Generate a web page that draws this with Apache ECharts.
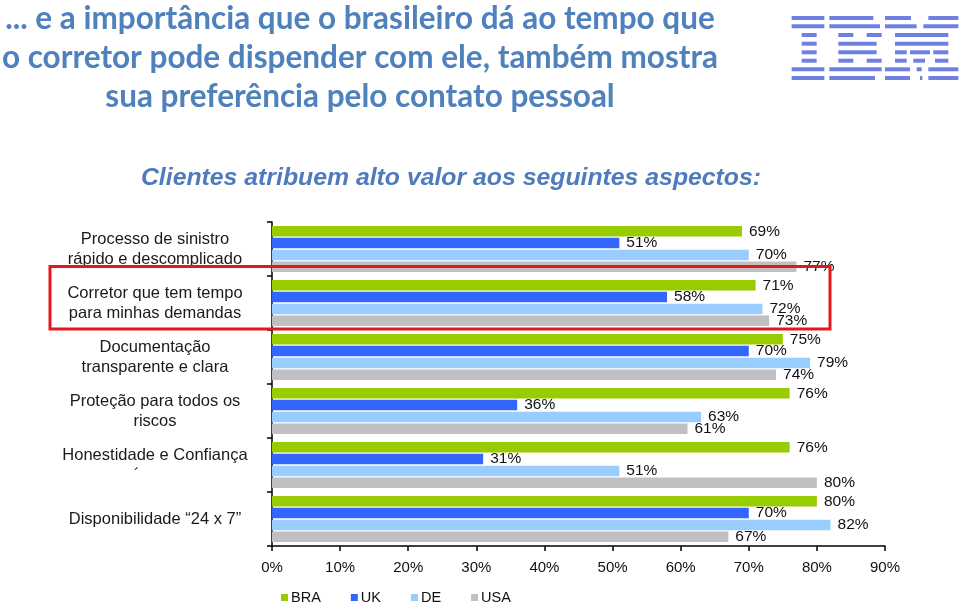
<!DOCTYPE html>
<html>
<head>
<meta charset="utf-8">
<script src="https://cdn.jsdelivr.net/npm/echarts@6/dist/echarts.min.js"></script>
<style>html,body{margin:0;padding:0;background:#fff;}#c{width:960px;height:603px;}</style>
</head>
<body>
<div id="c"></div>
<script>
const categories = [
  'Processo de sinistro\nrápido e descomplicado',
  'Corretor que tem tempo\npara minhas demandas',
  'Documentação\ntransparente e clara',
  'Proteção para todos os\nriscos',
  'Honestidade e Confiança\n´        ',
  'Disponibilidade “24 x 7”'
];
const seriesNames = ['BRA', 'UK', 'DE', 'USA'];
const bra = [69, 71, 75, 76, 76, 80];
const uk  = [51, 58, 70, 36, 31, 70];
const de  = [70, 72, 79, 63, 51, 82];
const usa = [77, 73, 74, 61, 80, 67];
const xMin = 0, xMax = 90, xStep = 10;
const titleText = '... e a importância que o brasileiro dá ao tempo que\no corretor pode dispender com ele, também mostra\nsua preferência pelo contato pessoal';
const subtitleText = 'Clientes atribuem alto valor aos seguintes aspectos:';

const colors = ['#99cc00', '#3366ff', '#99ccff', '#c0c0c0'];
const values = [bra, uk, de, usa];
const FONT = '"Liberation Sans", Arial, sans-serif';

// IBM logo stripes (decoration)
const logoRows = [
  [[20,118],[133,265],[300,378],[430,520]],
  [[20,118],[133,285],[300,395],[415,520]],
  [[50,95],[160,205],[245,290],[330,490]],
  [[50,95],[160,275],[330,490]],
  [[50,95],[160,275],[330,365],[375,435],[445,490]],
  [[50,95],[160,205],[245,290],[330,365],[385,420],[450,490]],
  [[20,118],[133,290],[300,375],[395,410],[430,520]],
  [[20,118],[133,270],[300,375],[405,412],[430,520]]
];
const logoRowY = [16, 24.3, 33, 41.7, 50.3, 58.7, 67.3, 76];
const logoEls = [];
logoRows.forEach((row, i) => {
  row.forEach(seg => {
    logoEls.push({
      type: 'rect',
      shape: { x: 785 + seg[0] / 3, y: logoRowY[i], width: (seg[1] - seg[0]) / 3, height: 4 },
      style: { fill: '#6f80e2' }
    });
  });
});

const chart = echarts.init(document.getElementById('c'), null, { renderer: 'canvas' });
chart.setOption({
  animation: false,
  textStyle: { fontFamily: FONT },
  title: [
    {
      text: titleText,
      left: 360, top: -1, textAlign: 'center', padding: 0,
      textStyle: { fontFamily: 'Lato, "Open Sans", sans-serif', fontWeight: 'bold', fontSize: 31.5, lineHeight: 39, color: '#4f81bd' }
    },
    {
      text: subtitleText,
      left: 451, top: 166, textAlign: 'center', padding: 0,
      textStyle: { fontFamily: FONT, fontWeight: 'bold', fontStyle: 'italic', fontSize: 24.8, color: '#4f7bbd' }
    }
  ],
  legend: {
    data: seriesNames,
    left: 276, top: 585,
    icon: 'rect', itemWidth: 7, itemHeight: 7, itemGap: 30,
    textStyle: { fontFamily: FONT, fontSize: 14.5, color: '#111', padding: [0, 0, 0, -2] }
  },
  grid: { left: 272, right: 75, top: 222, bottom: 57, containLabel: false },
  xAxis: {
    type: 'value', min: xMin, max: xMax, interval: xStep,
    axisLine: { show: true, lineStyle: { color: '#000', width: 1.5 } },
    axisTick: { show: true, length: 5, lineStyle: { color: '#000', width: 1.5 } },
    splitLine: { show: false },
    axisLabel: { formatter: '{value}%', fontFamily: FONT, fontSize: 15, color: '#111', margin: 14 }
  },
  yAxis: {
    type: 'category', data: categories, inverse: true,
    axisLine: { show: true, lineStyle: { color: '#000', width: 1.5 } },
    axisTick: { show: true, length: 5, lineStyle: { color: '#000', width: 1.5 } },
    axisLabel: { fontFamily: FONT, fontSize: 16.5, lineHeight: 20, color: '#1a1a1a', align: 'center', margin: 117 }
  },
  series: seriesNames.map((name, i) => ({
    name: name,
    type: 'bar',
    data: values[i],
    barCategoryGap: '15%',
    barGap: '12%',
    itemStyle: { color: colors[i] },
    label: {
      show: true, position: 'right', distance: 7,
      formatter: '{c}%', fontFamily: FONT, fontSize: 15.5, color: '#111'
    }
  })),
  graphic: [
    {
      type: 'rect', z: 100,
      shape: { x: 50, y: 266.5, width: 780, height: 62.5 },
      style: { fill: null, stroke: '#e3181d', lineWidth: 3 }
    },
    { type: 'group', children: logoEls }
  ]
});
</script>
</body>
</html>
